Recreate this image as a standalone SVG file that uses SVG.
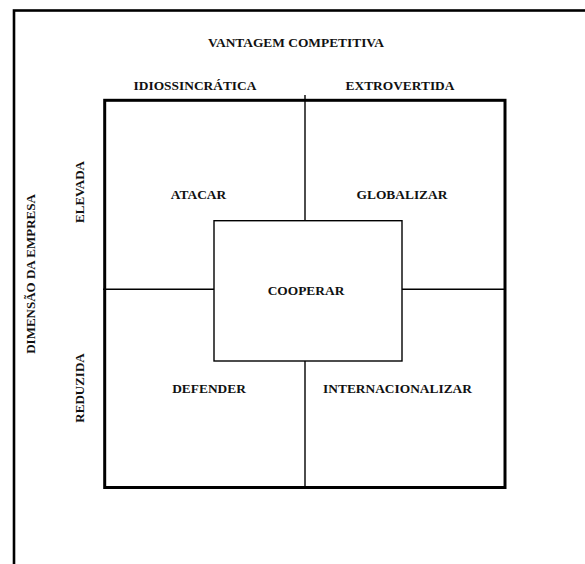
<svg xmlns="http://www.w3.org/2000/svg" width="585" height="564" viewBox="0 0 585 564">
<style>
text{font-family:"Liberation Serif","Times New Roman",serif;font-weight:bold;fill:#111;text-anchor:middle}
.h{font-size:13.4px}
.v{font-size:13px}
.thick{fill:none;stroke:#000;stroke-width:3}
.thin{fill:none;stroke:#000;stroke-width:1.4}
</style>
<rect width="585" height="564" fill="#fff"/>
<g id="frame"><rect x="14" y="10.5" width="620" height="620" fill="none" stroke="#000" stroke-width="2.6"/></g>
<g id="labels">
<text class="h" x="296" y="47">VANTAGEM COMPETITIVA</text>
<text class="h" x="195" y="90">IDIOSSINCRÁTICA</text>
<text class="h" x="400" y="90">EXTROVERTIDA</text>
<text class="v" transform="translate(84,192) rotate(-90)">ELEVADA</text>
<text class="v" transform="translate(35,274) rotate(-90)">DIMENSÃO DA EMPRESA</text>
<text class="v" transform="translate(84,388) rotate(-90)">REDUZIDA</text>
</g>
<g id="matrix"><rect class="thick" x="104.7" y="100.3" width="400.3" height="387.2"/></g>
<g id="connectors">
<line class="thin" x1="305" y1="95" x2="305" y2="221"/>
<line class="thin" x1="305" y1="361" x2="305" y2="487"/>
<line class="thin" x1="103" y1="289.3" x2="214" y2="289.3"/>
<line class="thin" x1="402" y1="289.3" x2="505" y2="289.3"/>
</g>
<g id="atacar"><text class="h" x="198.5" y="199">ATACAR</text></g>
<g id="globalizar"><text class="h" x="402" y="199">GLOBALIZAR</text></g>
<g id="cooperar"><rect class="thin" x="214" y="220.7" width="188" height="140.3" fill="#fff"/><text class="h" x="306" y="295">COOPERAR</text></g>
<g id="defender"><text class="h" x="209" y="393">DEFENDER</text></g>
<g id="internacionalizar"><text class="h" x="397.5" y="393">INTERNACIONALIZAR</text></g>
</svg>
